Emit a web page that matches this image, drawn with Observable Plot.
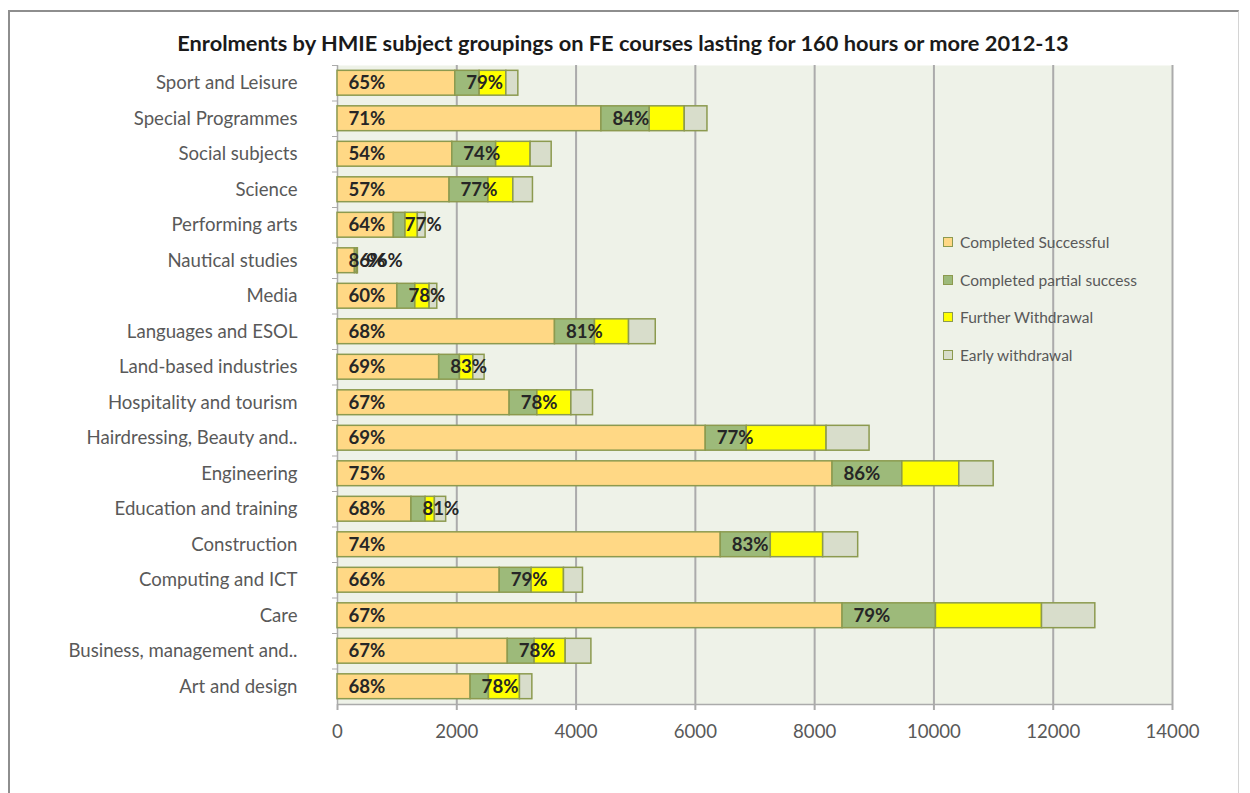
<!DOCTYPE html>
<html>
<head>
<meta charset="utf-8">
<script src="https://cdn.jsdelivr.net/npm/d3@7"></script>
<script src="https://cdn.jsdelivr.net/npm/@observablehq/plot@0.6"></script>
<style>
  html, body { margin: 0; padding: 0; background: #ffffff; }
  #wrap { position: relative; width: 1250px; height: 793px; overflow: hidden; font-family: Lato, "Open Sans", sans-serif; }
  #border { position: absolute; left: 8px; top: 10px; width: 1231px; height: 820px; border-left: 2px solid #8e8e8e; border-top: 2px solid #8e8e8e; border-right: 1px solid #d4d4d4; box-sizing: border-box; }
  #title { position: absolute; left: 0; width: 1246px; top: 30px; text-align: center; font-weight: bold; font-size: 21.8px; color: #1a1a1a; line-height: 26px; }
  #chart { position: absolute; left: 0; top: 0; }
  #legend { position: absolute; left: 943px; top: 223px; }
  .li { display: flex; align-items: center; height: 37.7px; font-size: 15.5px; color: #595959; }
  .sw { width: 8px; height: 8px; border: 1.5px solid #8c9a4f; margin-right: 7px; }
</style>
</head>
<body>
<div id="wrap">
  <div id="border"></div>
  <div id="chart"></div>
  <div id="title"></div>
  <div id="legend"></div>
</div>
<script>
const titleText = "Enrolments by HMIE subject groupings on FE courses lasting for 160 hours or more 2012-13";

const categories = [
  "Sport and Leisure", "Special Programmes", "Social subjects", "Science",
  "Performing arts", "Nautical studies", "Media", "Languages and ESOL",
  "Land-based industries", "Hospitality and tourism", "Hairdressing, Beauty and..",
  "Engineering", "Education and training", "Construction", "Computing and ICT",
  "Care", "Business, management and..", "Art and design"
];

const seriesNames = ["Completed Successful", "Completed partial success", "Further Withdrawal", "Early withdrawal"];
const seriesColors = ["#ffd885", "#9dba7a", "#ffff00", "#d8ddcb"];

const successful = [1975, 4425, 1925, 1879, 945, 292, 1004, 3646, 1705, 2886, 6174, 8300, 1240, 6426, 2720, 8468, 2855, 2232];
const partial    = [408, 810, 735, 651, 195, 36, 301, 671, 347, 465, 688, 1170, 237, 839, 535, 1566, 450, 307];
const further    = [448, 587, 578, 418, 207, 6, 239, 571, 225, 570, 1338, 955, 156, 878, 542, 1778, 521, 520];
const early      = [201, 381, 353, 329, 130, 8, 129, 448, 189, 363, 721, 577, 189, 587, 319, 894, 431, 208];

const pctSuccess  = ["65%", "71%", "54%", "57%", "64%", "86%", "60%", "68%", "69%", "67%", "69%", "75%", "68%", "74%", "66%", "67%", "67%", "68%"];
const pctCombined = ["79%", "84%", "74%", "77%", "77%", "96%", "78%", "81%", "83%", "78%", "77%", "86%", "81%", "83%", "79%", "79%", "78%", "78%"];

const xTicks = [0, 2000, 4000, 6000, 8000, 10000, 12000, 14000];

// build tables from the arrays
const seriesValues = [successful, partial, further, early];
const rows = [];
categories.forEach((c, i) => {
  seriesNames.forEach((s, k) => rows.push({category: c, series: s, value: seriesValues[k][i]}));
});
const labels1 = categories.map((c, i) => ({category: c, start: 0, text: pctSuccess[i]}));
const labels2 = categories.map((c, i) => ({category: c, start: successful[i], text: pctCombined[i]}));

const W = 1250, H = 793, mL = 337, mR = 78, mT = 65, mB = 89;
const step = (H - mT - mB) / categories.length;
const grid = "#ababab";
const fs = 18.6;

const chart = Plot.plot({
  width: W, height: H,
  marginLeft: mL, marginRight: mR, marginTop: mT, marginBottom: mB,
  style: {fontFamily: "Lato, 'Open Sans', sans-serif", background: "transparent", overflow: "visible"},
  x: {domain: [0, 14000], label: null},
  y: {domain: categories, paddingInner: 0.3, paddingOuter: 0.15, round: false, label: null},
  color: {domain: seriesNames, range: seriesColors},
  marks: [
    Plot.frame({fill: "#eef2e8", stroke: null}),
    Plot.gridX(xTicks.slice(1), {stroke: grid, strokeOpacity: 1, strokeWidth: 2}),
    Plot.ruleX([0], {stroke: grid, strokeWidth: 1.5}),
    Plot.ruleY([categories[categories.length - 1]], {stroke: grid, strokeWidth: 1.5, dy: step / 2}),
    Plot.axisY({tickSize: 5, tickFormat: () => "", dy: -step / 2, stroke: grid}),
    Plot.axisY({tickSize: 0, tickPadding: 40, fontSize: fs, fill: "#595959"}),
    Plot.axisX({ticks: xTicks, tickSize: 6, tickPadding: 14, tickFormat: d3.format("d"), fontSize: fs, fill: "#595959", stroke: grid, strokeWidth: 2}),
    Plot.barX(rows, Plot.stackX({x: "value", y: "category", fill: "series", stroke: "#8c9a4f", strokeWidth: 1.5})),
    Plot.text(labels1, {x: "start", y: "category", text: "text", textAnchor: "start", dx: 11, fontWeight: "bold", fontSize: fs, fill: "#262626"}),
    Plot.text(labels2, {x: "start", y: "category", text: "text", textAnchor: "start", dx: 11, fontWeight: "bold", fontSize: fs, fill: "#262626"})
  ]
});
document.getElementById("chart").appendChild(chart);
document.getElementById("title").textContent = titleText;

const legend = document.getElementById("legend");
seriesNames.forEach((s, k) => {
  const item = document.createElement("div");
  item.className = "li";
  const sw = document.createElement("span");
  sw.className = "sw";
  sw.style.background = seriesColors[k];
  const t = document.createElement("span");
  t.textContent = s;
  item.appendChild(sw);
  item.appendChild(t);
  legend.appendChild(item);
});
</script>
</body>
</html>
